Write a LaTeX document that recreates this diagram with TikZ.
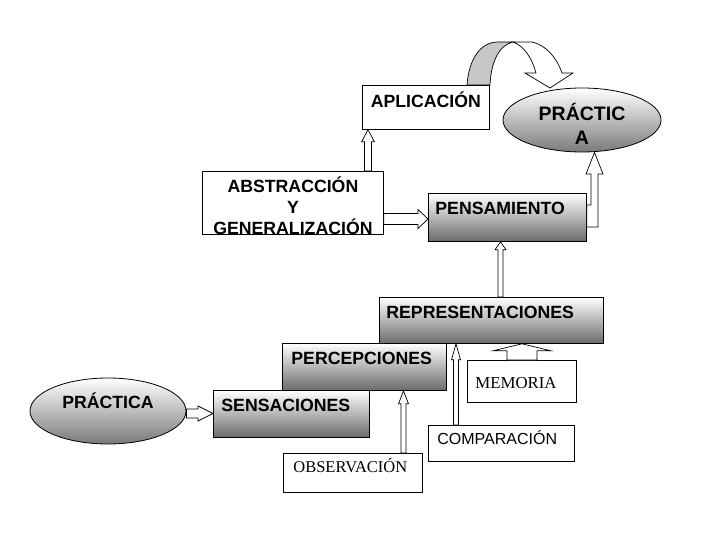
\documentclass[tikz,border=0pt]{standalone}
\usepackage{fontspec}
\setmainfont{Liberation Sans}
\newfontfamily\timesfont{Liberation Serif}
\hyphenpenalty=10000
\exhyphenpenalty=10000
\usetikzlibrary{
  calc, % For let and coordinate calculations
  shapes.geometric % For the ellipses
}

% hollow block arrow going up: x, from, to, half shaft, half head, head length
\newcommand\upblock[6]{%
  \draw[blockarrow] let \p1=(#2.north), \p2=(#3.south) in
    ({#1-#4},\y1) -- ({#1-#4},\y2-#6) -- ({#1-#5},\y2-#6) -- (#1,\y2)
    -- ({#1+#5},\y2-#6) -- ({#1+#4},\y2-#6) -- ({#1+#4},\y1) -- cycle;}
% hollow block arrow going right: y, from, to, half shaft, half head, head length
\newcommand\rightblock[6]{%
  \draw[blockarrow] let \p1=(#2.east), \p2=(#3.west) in
    (\x1,{#1-#4}) -- (\x2-#6,{#1-#4}) -- (\x2-#6,{#1-#5}) -- (\x2,#1)
    -- (\x2-#6,{#1+#5}) -- (\x2-#6,{#1+#4}) -- (\x1,{#1+#4}) -- cycle;}

\begin{document}
\begin{tikzpicture}[
      x=1pt, y=-1pt, % pixel coordinates, origin top left
      line width=0.8pt,
      plainbox/.style={draw, fill=white, rectangle, inner ysep=0pt, anchor=north west},
      shadedbox/.style={draw, rectangle, top color=white, middle color=black!20,
        bottom color=black!58, inner ysep=0pt, anchor=north west, align=left},
      shadedoval/.style={draw, ellipse, top color=white, middle color=black!22,
        bottom color=black!52, inner sep=0pt},
      boldtext/.style={font=\fontsize{17.7}{21}\selectfont\bfseries},
      blockarrow/.style={draw, fill=white, line width=0.7pt, line join=miter},
    ]

    \useasboundingbox (0,0) rectangle (720,540);

    % upper boxes
    \node[plainbox, boldtext, align=center, inner xsep=4pt, text width=119pt,
      text height=22pt, text depth=22pt] (aplicacion) at (362,85) {APLICACIÓN};
    \node[plainbox, boldtext, align=center, inner xsep=4pt, text width=173pt,
      text height=21pt, text depth=42pt] (abstraccion) at (202,171)
      {ABSTRACCIÓN\\Y\\GENERALIZACIÓN};
    \node[shadedoval, minimum width=158pt, minimum height=64pt, align=center,
      text width=100pt, text height=12pt, text depth=10pt,
      font=\fontsize{19.5}{24}\selectfont\bfseries] (practicaarriba) at (582,120)
      {PRÁCTIC\\A};
    \node[shadedbox, boldtext, inner xsep=7pt, text width=144pt,
      text height=21pt, text depth=27pt] (pensamiento) at (428,193) {PENSAMIENTO};

    % lower boxes
    \node[shadedbox, boldtext, inner xsep=7pt, text width=210pt,
      text height=21pt, text depth=25pt] (representaciones) at (379,297) {REPRESENTACIONES};
    \node[shadedbox, boldtext, inner xsep=9pt, text width=146pt,
      text height=21pt, text depth=26pt] (percepciones) at (282,343) {PERCEPCIONES};
    \node[shadedbox, boldtext, inner xsep=8pt, text width=140pt,
      text height=21pt, text depth=26pt] (sensaciones) at (213,390) {SENSACIONES};
    \node[shadedoval, boldtext, minimum width=156pt, minimum height=66pt,
      text height=10pt, text depth=16pt] (practica) at (108,411) {PRÁCTICA};
    \node[plainbox, align=left, inner xsep=8pt, text width=93pt,
      text height=28pt, text depth=14pt, font=\timesfont\fontsize{16.8}{20}\selectfont]
      (memoria) at (467,360) {MEMORIA};
    \node[plainbox, align=left, inner xsep=9pt, text width=128pt,
      text height=19pt, text depth=17pt, font=\fontsize{16}{19}\selectfont]
      (comparacion) at (428,425) {COMPARACIÓN};
    \node[plainbox, align=left, inner xsep=10pt, text width=119pt,
      text height=19pt, text depth=20pt, font=\timesfont\fontsize{16.5}{20}\selectfont]
      (observacion) at (283,453) {OBSERVACIÓN};

    % straight block arrows
    \upblock{368}{abstraccion}{aplicacion}{3.5}{6.5}{12pt}
    \rightblock{219}{abstraccion}{pensamiento}{5.5}{9.5}{10pt}
    \upblock{500.5}{representaciones}{pensamiento}{2.5}{5.5}{8pt}
    \rightblock{413.5}{practica}{sensaciones}{4.5}{7.5}{15pt}
    \upblock{403.5}{observacion}{percepciones}{2.5}{5}{13pt}
    \upblock{456}{comparacion}{representaciones}{2.5}{4.5}{16pt}
    \upblock{522}{memoria}{representaciones}{15}{29}{7pt}

    % bent arrow to the top ellipse
    \draw[blockarrow] let \p1=(pensamiento.east), \p2=(practicaarriba.south) in
      (\x1,205) -- (591,205) -- (591,174) -- (586,174) -- (594.5,\y2)
      -- (603,174) -- (598,174) -- (598,227) -- (\x1,227) -- cycle;

    % curved arrow over the top
    \draw[line width=0.7pt, fill=black!22] (467,85) .. controls (469,58) and (481,42) .. (498,42)
      -- (513,42) .. controls (499,45) and (491,62) .. (490,85) -- cycle;
    \draw[line width=0.7pt, fill=white] (513,42) -- (532,42)
      .. controls (546,45) and (557,58) .. (562,73) -- (573,73) -- (550,88)
      -- (525,73) -- (536,73) .. controls (532,58) and (524,46) .. (513,42) -- cycle;

  \end{tikzpicture}
\end{document}
